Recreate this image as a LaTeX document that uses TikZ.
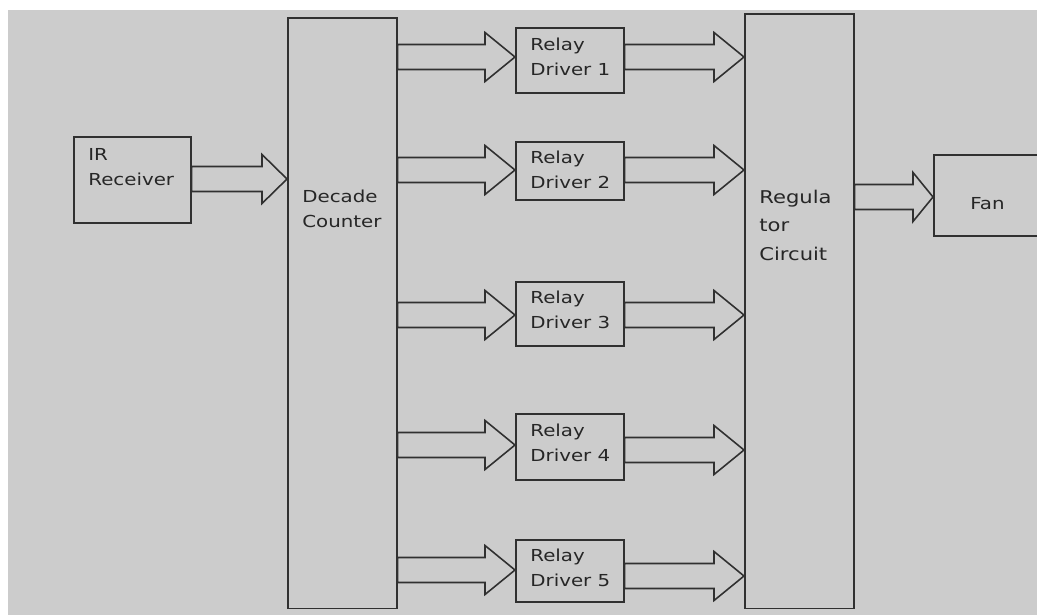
\documentclass[tikz,border=0pt]{standalone}
\usepackage{fontspec}
\setmainfont[FakeStretch=1.2]{DejaVu Sans}
\usetikzlibrary{calc}
\definecolor{bggray}{HTML}{CCCCCC}
\definecolor{linegray}{HTML}{303030}
\tikzset{
  blk/.style={draw=linegray, line width=0.9pt, inner sep=0pt, anchor=north west},
  fatline/.style={draw=linegray, line width=0.9pt, line join=miter},
  lbl/.style={text=black!85, anchor=base west, inner sep=0pt, align=left, font=\fontsize{9.4}{14.2}\selectfont}
}
% block arrow from the east side of #2 to the west side of #3, tip at height #4
\newcommand{\fatarrow}[4][0.6cm]{%
  \draw[fatline] ($(#2.east |- 0,#4)+(0,0.25cm)$) -- ($(#3.west |- 0,#4)+(-#1,0.25cm)$)
    -- ($(#3.west |- 0,#4)+(-#1,0.49cm)$) -- (#3.west |- 0,#4)
    -- ($(#3.west |- 0,#4)+(-#1,-0.49cm)$) -- ($(#3.west |- 0,#4)+(-#1,-0.25cm)$)
    -- ($(#2.east |- 0,#4)+(0,-0.25cm)$) -- cycle;}

\begin{document}
\begin{tikzpicture}[x=0.02cm, y=-0.02cm]
\useasboundingbox (0,0) rectangle (1037,615);
\fill[bggray] (8,10) rectangle (1037,615);

\node[blk, minimum width=2.34cm, minimum height=1.72cm] (ir) at (73,136) {};
\node[blk, minimum width=2.18cm, minimum height=11.82cm] (dc) at (287,17) {};
\node[blk, minimum width=2.16cm, minimum height=1.30cm] (rd1) at (515,27) {};
\node[blk, minimum width=2.16cm, minimum height=1.16cm] (rd2) at (515,141) {};
\node[blk, minimum width=2.16cm, minimum height=1.28cm] (rd3) at (515,281) {};
\node[blk, minimum width=2.16cm, minimum height=1.32cm] (rd4) at (515,413) {};
\node[blk, minimum width=2.16cm, minimum height=1.24cm] (rd5) at (515,539) {};
\node[blk, minimum width=2.18cm, minimum height=11.90cm] (reg) at (744,13) {};
\node[blk, minimum width=2.16cm, minimum height=1.62cm] (fan) at (933,154) {};

% labels sit on the baseline of their last line
\node[lbl] (irtxt) at (88,185) {IR\\Receiver};
\node[lbl] (dctxt) at (302,227) {Decade\\Counter};
\node[lbl] (rd1txt) at (530,75) {Relay\\Driver 1};
\node[lbl] (rd2txt) at (530,188) {Relay\\Driver 2};
\node[lbl] (rd3txt) at (530,328) {Relay\\Driver 3};
\node[lbl] (rd4txt) at (530,461) {Relay\\Driver 4};
\node[lbl] (rd5txt) at (530,586) {Relay\\Driver 5};
\node[lbl, font=\fontsize{10}{16}\selectfont] (regtxt) at (759,260) {Regula\\tor\\Circuit};
\node[lbl] (fantxt) at (970,209) {Fan};

\fatarrow[0.5cm]{ir}{dc}{179}
\fatarrow{dc}{rd1}{57}
\fatarrow{dc}{rd2}{170}
\fatarrow{dc}{rd3}{315}
\fatarrow{dc}{rd4}{445}
\fatarrow{dc}{rd5}{570}
\fatarrow{rd1}{reg}{57}
\fatarrow{rd2}{reg}{170}
\fatarrow{rd3}{reg}{315}
\fatarrow{rd4}{reg}{450}
\fatarrow{rd5}{reg}{576}
\fatarrow[0.4cm]{reg}{fan}{197}
\end{tikzpicture}
\end{document}
